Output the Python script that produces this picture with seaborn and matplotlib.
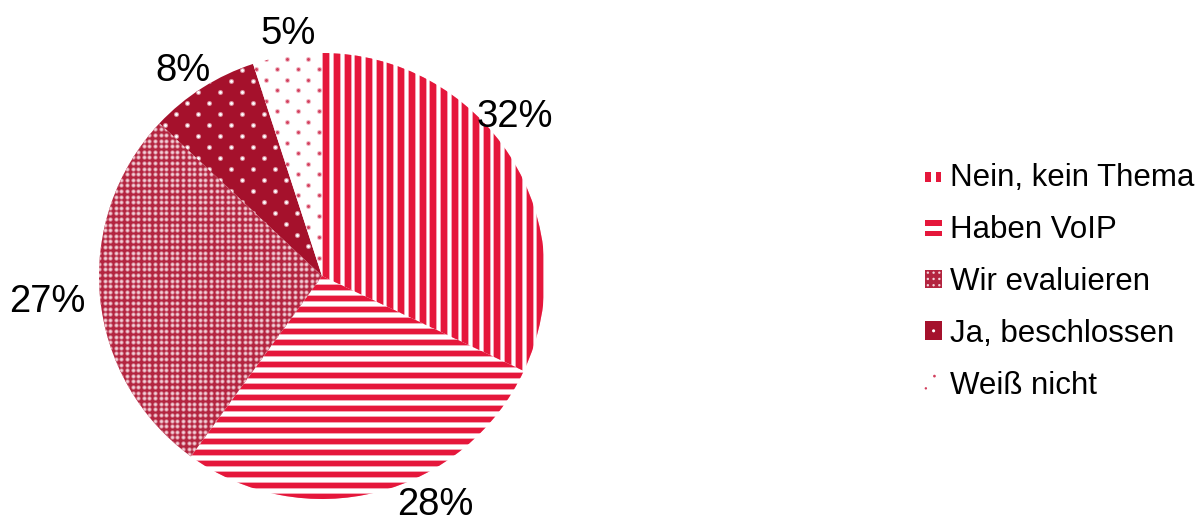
import numpy as np
import matplotlib
matplotlib.use("Agg")
import matplotlib.pyplot as plt
import seaborn as sns
from matplotlib.patches import Rectangle, Circle
from matplotlib.collections import PatchCollection
from matplotlib.legend_handler import HandlerBase

# Survey answers and their shares in percent
categories = ["Nein, kein Thema", "Haben VoIP", "Wir evaluieren", "Ja, beschlossen", "Weiß nicht"]
shares = [32, 28, 27, 8, 5]
pct_labels = [f"{v}%" for v in shares]

# Label anchor points (pie units, radius = 1)
label_xy = [(0.865, 0.713), (0.507, -1.027), (-1.233, -0.117), (-0.623, 0.92), (-0.152, 1.085)]

RED = "#E5173B"
PINK = "#F5A3B3"
DARK_EVAL = "#B3243F"
DARK_JA = "#A5112C"
DOT_RED = "#D23F5D"

sns.set_theme(style="white")
plt.rcParams["font.family"] = ["Liberation Sans", "DejaVu Sans"]
plt.rcParams["text.color"] = "black"

W, H, DPI = 1203, 521, 100
fig = plt.figure(figsize=(W / DPI, H / DPI), dpi=DPI)
cx, cy, R = 322, 245, 223  # pie centre (px from bottom-left) and radius (px)
ax = fig.add_axes([0, 0, 1, 1])

base_colors = sns.color_palette(["#FFFFFF", "#FFFFFF", DARK_EVAL, DARK_JA, "#FFFFFF"])
wedges, _ = ax.pie(shares, colors=base_colors, startangle=90, counterclock=False,
                   radius=1, wedgeprops=dict(linewidth=0))
ax.set_xlim(-cx / R, (W - cx) / R)
ax.set_ylim(-cy / R, (H - cy) / R)
ax.set_aspect("equal")
ax.axis("off")

u = 1.0 / R  # one pixel in pie units


def stripe_fill(wedge, vertical, period, width, color, fringe):
    rects_f, rects = [], []
    for p in np.arange(-1.05, 1.05, period * u):
        if vertical:
            rects_f.append(Rectangle((p - u, -1.1), (width + 2) * u, 2.2))
            rects.append(Rectangle((p, -1.1), width * u, 2.2))
        else:
            rects_f.append(Rectangle((-1.1, p - u), 2.2, (width + 2) * u))
            rects.append(Rectangle((-1.1, p), 2.2, width * u))
    for rs, c in ((rects_f, fringe), (rects, color)):
        pc = PatchCollection(rs, facecolor=c, edgecolor="none", zorder=3)
        ax.add_collection(pc)
        pc.set_clip_path(wedge)


def dot_fill(wedge, dx, dy, stagger, size, color, halo=None):
    xs, ys = [], []
    for j, y in enumerate(np.arange(-1.05, 1.05, dy * u)):
        off = (dx * u / 2) if (stagger and j % 2) else 0.0
        for x in np.arange(-1.05, 1.05, dx * u):
            xs.append(x + off)
            ys.append(y)
    if halo is not None:
        sc = ax.scatter(xs, ys, s=size * 3.0, c=halo, marker="o", linewidths=0, zorder=3)
        sc.set_clip_path(wedge)
    sc = ax.scatter(xs, ys, s=size, c=color, marker="o", linewidths=0, zorder=4)
    sc.set_clip_path(wedge)


stripe_fill(wedges[0], True, 10.7, 6.0, RED, PINK)
stripe_fill(wedges[1], False, 11.0, 5.5, RED, PINK)
dot_fill(wedges[2], 5.6, 5.6, False, 3.2, "#F3D3DA", halo="#D98A9A")
dot_fill(wedges[3], 22, 11, True, 4.5, "#FFFFFF", halo="#D88C9B")
dot_fill(wedges[4], 21, 10.5, True, 4.5, DOT_RED, halo="#F2B8C4")

for (x, y), t in zip(label_xy, pct_labels):
    ax.text(x, y, t, ha="center", va="center", fontsize=27.5, color="black", zorder=6)


class PatternKey:
    def __init__(self, kind):
        self.kind = kind


class PatternHandler(HandlerBase):
    def create_artists(self, legend, orig_handle, xdescent, ydescent, width, height, fontsize, trans):
        x0, y0, w, h = -xdescent, -ydescent, width, height
        k = orig_handle.kind
        arts = []
        if k == "v":
            for fx in (0.0, 0.62):
                arts.append(Rectangle((x0 + fx * w, y0 + 0.15 * h), 0.32 * w, 0.5 * h,
                                      facecolor=RED, edgecolor="none", transform=trans))
        elif k == "h":
            arts.append(Rectangle((x0, y0 + 0.55 * h), w, 0.35 * h, facecolor=RED,
                                  edgecolor="none", transform=trans))
            arts.append(Rectangle((x0, y0 + 0.05 * h), w, 0.22 * h, facecolor=RED,
                                  edgecolor="none", transform=trans))
        elif k == "eval":
            arts.append(Rectangle((x0, y0), w, h, facecolor=DARK_EVAL, edgecolor="none", transform=trans))
            for i in range(3):
                for j in range(3):
                    arts.append(Circle((x0 + (i + 0.5) * w / 3, y0 + (j + 0.5) * h / 3), 0.07 * w,
                                       facecolor="#F3D3DA", edgecolor="none", transform=trans))
        elif k == "ja":
            arts.append(Rectangle((x0, y0), w, h, facecolor=DARK_JA, edgecolor="none", transform=trans))
            arts.append(Circle((x0 + 0.5 * w, y0 + 0.5 * h), 0.09 * w,
                               facecolor="white", edgecolor="none", transform=trans))
        else:
            arts.append(Circle((x0 + 0.55 * w, y0 + 0.85 * h), 0.08 * w,
                               facecolor=DOT_RED, edgecolor="none", transform=trans))
            arts.append(Circle((x0 + 0.05 * w, y0 + 0.2 * h), 0.07 * w,
                               facecolor=DOT_RED, edgecolor="none", transform=trans))
        return arts


keys = [PatternKey(k) for k in ("v", "h", "eval", "ja", "dots")]
leg = fig.legend(keys, categories, handler_map={PatternKey: PatternHandler()},
                 loc="center left", bbox_to_anchor=(925 / W, 239 / H), frameon=False,
                 fontsize=22.5, handlelength=0.55, handleheight=0.55, handletextpad=0.25,
                 labelspacing=0.70, borderpad=0, borderaxespad=0)
for t in leg.get_texts():
    t.set_color("black")

fig.savefig("out.png", dpi=DPI)
